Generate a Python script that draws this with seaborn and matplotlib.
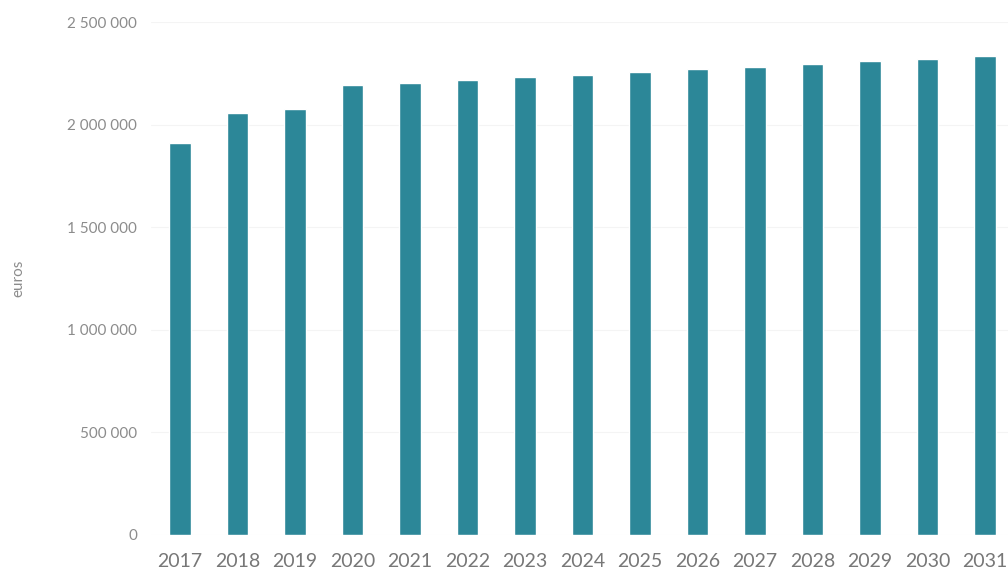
import matplotlib
matplotlib.use("Agg")
import matplotlib.pyplot as plt
from matplotlib.ticker import FuncFormatter
import seaborn as sns
import pandas as pd

# Annual amounts in euros
years = ["2017", "2018", "2019", "2020", "2021", "2022", "2023", "2024",
         "2025", "2026", "2027", "2028", "2029", "2030", "2031"]
amounts = [1908000, 2059000, 2074000, 2191000, 2201000, 2215000, 2230000,
           2242000, 2257000, 2269000, 2280000, 2296000, 2308000, 2321000,
           2333000]
y_ticks = [0, 500000, 1000000, 1500000, 2000000, 2500000]

sns.set_theme(style="white")
plt.rcParams["font.family"] = ["Lato", "DejaVu Sans"]

df = pd.DataFrame({"year": years, "amount": amounts})

fig = plt.figure(figsize=(10.08, 5.75), dpi=100)
ax = fig.add_axes([0.15, 0.0696, 0.85, 0.8921])

sns.barplot(data=df, x="year", y="amount", color="#2c8798",
            saturation=1, width=0.38, ax=ax)

ax.set_ylim(0, 2500000)
ax.set_xlim(-0.5, 14.4)
ax.set_yticks(y_ticks)
ax.yaxis.set_major_formatter(
    FuncFormatter(lambda v, _: f"{int(v):,}".replace(",", " ")))

ax.grid(axis="y", color="#f4f4f4", linewidth=0.8)
ax.set_axisbelow(True)
for side in ax.spines.values():
    side.set_visible(False)

ax.tick_params(axis="y", labelsize=11, labelcolor="#8c8c8c", pad=10, length=0)
ax.tick_params(axis="x", labelsize=14, labelcolor="#777777", pad=13, length=0)

ax.set_xlabel("")
ax.set_ylabel("euros", fontsize=11, color="#8c8c8c", labelpad=30)

fig.savefig("out.png", dpi=100)
